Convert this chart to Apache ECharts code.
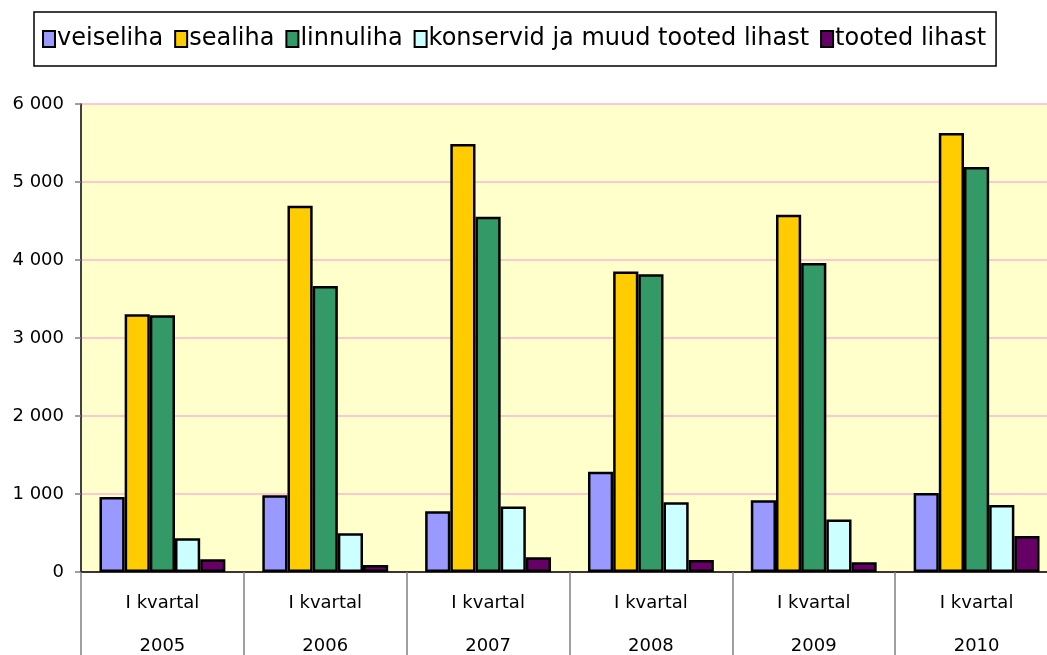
<!DOCTYPE html>
<html>
<head>
<meta charset="utf-8">
<script src="https://cdn.jsdelivr.net/npm/echarts@6/dist/echarts.min.js"></script>
<style>
  html, body { margin: 0; padding: 0; background: #fff; overflow: hidden; }
  #main { width: 1047px; height: 655px; }
</style>
</head>
<body>
<div id="main"></div>
<script>
var quarters = ['I kvartal', 'I kvartal', 'I kvartal', 'I kvartal', 'I kvartal', 'I kvartal'];
var years = ['2005', '2006', '2007', '2008', '2009', '2010'];

var veiseliha = [963, 985, 779, 1284, 920, 1014];
var sealiha = [3304, 4694, 5486, 3851, 4579, 5628];
var linnuliha = [3291, 3667, 4553, 3817, 3963, 5191];
var konservid = [432, 497, 839, 895, 672, 860];
var tootedLihast = [163, 90, 189, 154, 124, 462];

var seriesNames = ['veiseliha', 'sealiha', 'linnuliha', 'konservid ja muud tooted lihast', 'tooted lihast'];
var seriesData = [veiseliha, sealiha, linnuliha, konservid, tootedLihast];
var colors = ['#9999ff', '#ffcc00', '#339966', '#ccffff', '#660066'];

var categories = quarters.map(function (q, i) { return q + '\n' + years[i]; });

var chart = echarts.init(document.getElementById('main'));

var series = seriesNames.map(function (name, i) {
    return {
        name: name,
        type: 'bar',
        data: seriesData[i],
        barGap: '0%',
        barCategoryGap: '22.7%',
        itemStyle: { color: colors[i], borderColor: '#000', borderWidth: 2.5 },
        emphasis: { disabled: true }
    };
});

var option = {
    animation: false,
    textStyle: { fontFamily: 'DejaVu Sans, sans-serif' },
    legend: {
        left: 34,
        top: 12,
        padding: [15, 10, 15, 8],
        borderColor: '#000',
        borderWidth: 1.5,
        itemWidth: 12,
        itemHeight: 16,
        itemGap: 11,
        icon: 'rect',
        itemStyle: { borderColor: '#000', borderWidth: 2 },
        textStyle: { fontSize: 24, color: '#000', padding: [0, 0, 0, -3] },
        data: seriesNames
    },
    grid: {
        left: 81,
        top: 104,
        width: 977,
        height: 468,
        show: true,
        backgroundColor: '#ffffcc',
        borderWidth: 0,
        containLabel: false,
        outerBoundsMode: 'none'
    },
    xAxis: {
        type: 'category',
        data: categories,
        axisLine: { lineStyle: { color: '#000', width: 1.5 } },
        axisTick: { show: true, length: 90, lineStyle: { color: '#808080', width: 1.5 } },
        axisLabel: {
            color: '#000',
            fontSize: 18,
            lineHeight: 43,
            margin: 10,
            interval: 0
        }
    },
    yAxis: {
        type: 'value',
        min: 0,
        max: 6000,
        interval: 1000,
        axisLine: { show: true, lineStyle: { color: '#000', width: 1.5 } },
        axisTick: { show: true, length: 6, lineStyle: { color: '#808080', width: 1.5 } },
        splitLine: { lineStyle: { color: '#ffb6d0', width: 1.5 } },
        axisLabel: {
            color: '#000',
            fontSize: 18,
            margin: 17,
            formatter: function (v) {
                return String(v).replace(/\B(?=(\d{3})+(?!\d))/g, ' ');
            }
        }
    },
    series: series
};

chart.setOption(option);
window.onresize = function () {
    chart.resize();
};
</script>
</body>
</html>
